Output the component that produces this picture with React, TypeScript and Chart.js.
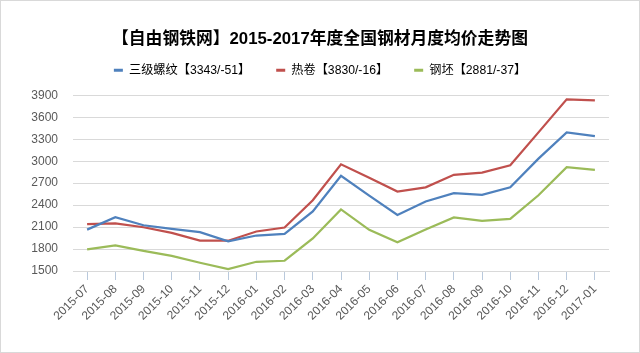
import React, { useEffect, useRef } from "react";
import { Chart, registerables } from "chart.js";

Chart.register(...registerables);

const TITLE = "【自由钢铁网】2015-2017年度全国钢材月度均价走势图";

const categories = [
  "2015-07", "2015-08", "2015-09", "2015-10", "2015-11", "2015-12",
  "2016-01", "2016-02", "2016-03", "2016-04", "2016-05", "2016-06",
  "2016-07", "2016-08", "2016-09", "2016-10", "2016-11", "2016-12", "2017-01",
];

const rebarLabel = "三级螺纹【3343/-51】";
const rebar = [2065, 2235, 2125, 2075, 2030, 1905, 1985, 2008, 2315, 2800, 2530, 2265, 2450, 2565, 2540, 2643, 3035, 3394, 3343];

const hotCoilLabel = "热卷【3830/-16】";
const hotCoil = [2140, 2152, 2098, 2022, 1914, 1914, 2040, 2094, 2467, 2958, 2773, 2585, 2643, 2814, 2845, 2944, 3394, 3846, 3830];

const billetLabel = "钢坯【2881/-37】";
const billet = [1797, 1851, 1774, 1707, 1613, 1527, 1626, 1640, 1945, 2341, 2062, 1891, 2067, 2233, 2184, 2211, 2535, 2918, 2881];

const yMin = 1500;
const yMax = 3900;
const yStep = 300;

const FONT = "'Liberation Sans', Arial, 'Noto Sans CJK SC', sans-serif";

export default function App() {
  const ref = useRef<HTMLCanvasElement | null>(null);

  useEffect(() => {
    if (!ref.current) return;
    const mk = (label: string, data: number[], color: string) => ({
      label,
      data,
      borderColor: color,
      backgroundColor: color,
      borderWidth: 2.25,
      pointRadius: 0,
      tension: 0,
      fill: false,
    });
    const chart = new Chart(ref.current, {
      type: "line",
      data: {
        labels: categories,
        datasets: [
          mk(rebarLabel, rebar, "#4f81bd"),
          mk(hotCoilLabel, hotCoil, "#c0504d"),
          mk(billetLabel, billet, "#9bbb59"),
        ],
      },
      options: {
        animation: false,
        responsive: true,
        maintainAspectRatio: false,
        layout: { padding: { left: 31, right: 31, top: 0, bottom: 0 } },
        plugins: {
          tooltip: { enabled: false },
          title: {
            display: true,
            text: TITLE,
            color: "#000000",
            font: { family: FONT, size: 16.8, weight: "bold", lineHeight: 1.2 },
            padding: { top: 29, bottom: -11 },
          },
          subtitle: {
            display: true,
            text: " ",
            weight: 500,
            font: { size: 9, lineHeight: 1 },
            padding: 0,
          },
          legend: {
            display: true,
            position: "top",
            labels: {
              color: "#000000",
              font: { family: FONT, size: 12.2 },
              boxWidth: 9,
              boxHeight: 3,
              padding: 26,
              generateLabels: (c: any) => {
                const items = Chart.defaults.plugins.legend.labels.generateLabels(c);
                return items.map((it: any) => ({ ...it, lineWidth: 0, strokeStyle: "rgba(0,0,0,0)" }));
              },
            },
          },
        },
        scales: {
          x: {
            type: "category",
            offset: true,
            grid: {
              offset: false,
              drawOnChartArea: false,
              drawTicks: true,
              tickLength: 9,
              tickColor: "#b9c9dc",
              tickWidth: 1,
            },
            border: { display: true, color: "#d9d9d9", width: 1 },
            ticks: {
              color: "#595959",
              font: { family: FONT, size: 12 },
              minRotation: 45,
              maxRotation: 45,
              autoSkip: false,
              padding: 2,
            },
            afterFit: (s: any) => {
              s.height = 82;
            },
          },
          y: {
            min: yMin,
            max: yMax,
            grid: { color: "#d9d9d9", drawTicks: false, lineWidth: 1 },
            border: { display: false },
            ticks: {
              stepSize: yStep,
              color: "#595959",
              font: { family: FONT, size: 12 },
              padding: 15,
              callback: (v: any) => String(v),
            },
            afterFit: (s: any) => {
              s.width = 42;
            },
          },
        },
      },
    } as any);
    return () => chart.destroy();
  }, []);

  return (
    <div style={{ position: "absolute", left: 0, top: 0, width: 640, height: 353, background: "#ffffff" }}>
      <canvas ref={ref} />
      <div
        style={{
          position: "absolute",
          left: 0,
          top: 0,
          width: 640,
          height: 353,
          boxSizing: "border-box",
          border: "1px solid #d9d9d9",
          pointerEvents: "none",
        }}
      />
    </div>
  );
}
